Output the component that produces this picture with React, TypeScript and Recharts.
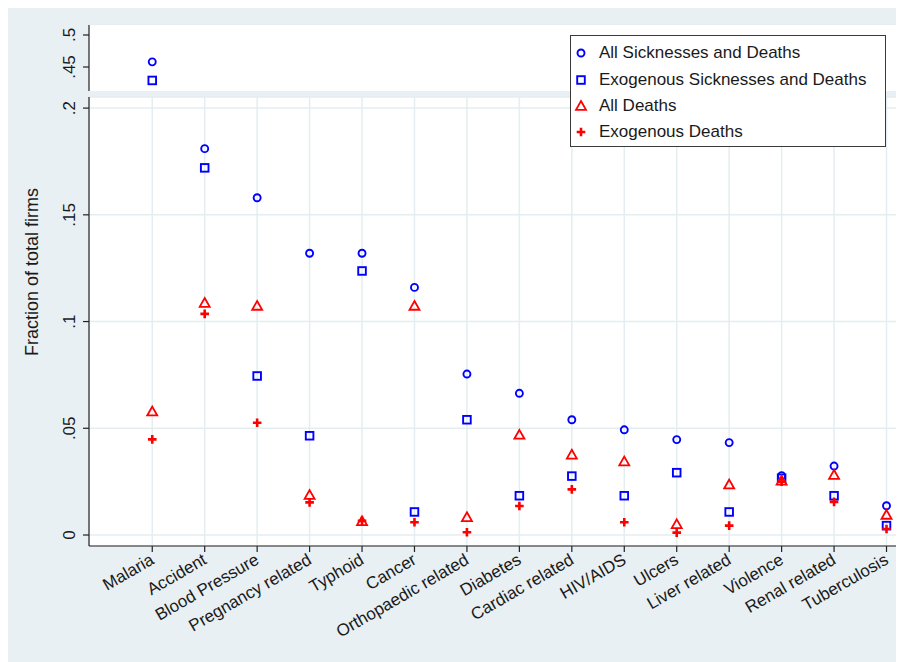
import React from "react";
import { ScatterChart, Scatter, XAxis, YAxis, CartesianGrid } from "recharts";

// ---- data ----
const categories = [
  "Malaria",
  "Accident",
  "Blood Pressure",
  "Pregnancy related",
  "Typhoid",
  "Cancer",
  "Orthopaedic related",
  "Diabetes",
  "Cardiac related",
  "HIV/AIDS",
  "Ulcers",
  "Liver related",
  "Violence",
  "Renal related",
  "Tuberculosis",
];
const allSicknesses = [0.458, 0.181, 0.158, 0.132, 0.132, 0.116, 0.0754, 0.0664, 0.054, 0.0493, 0.0447, 0.0433, 0.0278, 0.0323, 0.0137];
const exoSicknesses = [0.429, 0.172, 0.0745, 0.0465, 0.1237, 0.0108, 0.054, 0.0184, 0.0276, 0.0184, 0.0292, 0.0108, 0.0266, 0.0184, 0.0044];
const allDeaths = [0.0578, 0.1087, 0.1073, 0.0187, 0.0064, 0.1073, 0.0083, 0.0469, 0.0376, 0.0344, 0.005, 0.0236, 0.0254, 0.0281, 0.0094];
const exoDeaths = [0.0448, 0.1036, 0.0526, 0.0153, 0.0066, 0.006, 0.0013, 0.0136, 0.0214, 0.006, 0.0011, 0.0044, 0.025, 0.0155, 0.0028];

const legendLabels = [
  "All Sicknesses and Deaths",
  "Exogenous Sicknesses and Deaths",
  "All Deaths",
  "Exogenous Deaths",
];
const topYTicks = [0.45, 0.5];
const topYLabels = [".45", ".5"];
const bottomYTicks = [0, 0.05, 0.1, 0.15, 0.2];
const bottomYLabels = ["0", ".05", ".1", ".15", ".2"];
const yTitle = "Fraction of total firms";

const topDomain: [number, number] = [0.4125, 0.5156];
const bottomDomain: [number, number] = [-0.00515, 0.2052];
const xDomain: [number, number] = [-1.206, 14.2];
const xTicks = categories.map((_, i) => i);

// ---- styles ----
const BLUE = "#0000ff";
const RED = "#ff0000";
const AXIS = "#222222";
const GRID = "#e4edf0";
const BG = "#e8f0f3";
const FONT = "'Liberation Sans', Arial, Helvetica, sans-serif";

function toPoints(values: number[], domain: [number, number]) {
  return values
    .map((v, i) => ({ x: i, y: v }))
    .filter((p) => p.y >= domain[0] && p.y <= domain[1]);
}

const CircleShape = (p: any) => (
  <circle cx={p.cx} cy={p.cy} r={3.5} fill="none" stroke={BLUE} strokeWidth={1.9} />
);
const SquareShape = (p: any) => (
  <rect x={p.cx - 3.8} y={p.cy - 3.8} width={7.6} height={7.6} fill="none" stroke={BLUE} strokeWidth={1.9} />
);
const TriangleShape = (p: any) => (
  <path
    d={`M${p.cx},${p.cy - 5} L${p.cx + 5},${p.cy + 3.8} L${p.cx - 5},${p.cy + 3.8} Z`}
    fill="none"
    stroke={RED}
    strokeWidth={1.8}
  />
);
const PlusShape = (p: any) => (
  <path
    d={`M${p.cx - 4.3},${p.cy} H${p.cx + 4.3} M${p.cx},${p.cy - 4.3} V${p.cy + 4.3}`}
    stroke={RED}
    strokeWidth={2.6}
    fill="none"
  />
);
const shapes = [CircleShape, SquareShape, TriangleShape, PlusShape];
const seriesValues = [allSicknesses, exoSicknesses, allDeaths, exoDeaths];

const makeYTick = (ticks: number[], labels: string[]) => (props: any) => {
  const { x, y, payload } = props;
  const idx = ticks.indexOf(payload.value);
  const label = idx >= 0 ? labels[idx] : String(payload.value);
  return (
    <text
      x={x}
      y={y}
      transform={`rotate(-90 ${x} ${y})`}
      textAnchor="middle"
      fontSize={17}
      fontFamily={FONT}
      fill="#1a1a1a"
    >
      {label}
    </text>
  );
};

const XTick = (props: any) => {
  const { x, y, payload } = props;
  const label = categories[payload.value] ?? "";
  const ax = x + 3;
  const ay = y + 11;
  return (
    <text
      x={ax}
      y={ay}
      transform={`rotate(-30 ${ax} ${ay})`}
      textAnchor="end"
      fontSize={17}
      fontFamily={FONT}
      fill="#1a1a1a"
    >
      {label}
    </text>
  );
};

const W = 889;
const H = 654;
const AXIS_W = 81;

export default function App() {
  return (
    <div style={{ position: "relative", width: W, height: H, background: BG, fontFamily: FONT }}>
      {/* top panel */}
      <div style={{ position: "absolute", left: 0, top: 0 }}>
        <ScatterChart width={W} height={83} margin={{ top: 17, right: 0, left: 0, bottom: 0 }}>
          <rect x={AXIS_W} y={17} width={W - AXIS_W} height={66} fill="#ffffff" />
          <CartesianGrid stroke={GRID} strokeWidth={1.5} fill="#ffffff" />
          <XAxis
            type="number"
            dataKey="x"
            domain={xDomain}
            ticks={xTicks}
            allowDataOverflow
            height={0}
            axisLine={false}
            tickLine={false}
            tick={false}
          />
          <YAxis
            type="number"
            dataKey="y"
            domain={topDomain}
            ticks={topYTicks}
            allowDataOverflow
            width={AXIS_W}
            axisLine={{ stroke: AXIS, strokeWidth: 1.2 }}
            tickLine={{ stroke: AXIS, strokeWidth: 1.2 }}
            tickSize={6}
            tickMargin={8}
            tick={makeYTick(topYTicks, topYLabels)}
          />
          {seriesValues.map((vals, i) => (
            <Scatter
              key={i}
              name={legendLabels[i]}
              data={toPoints(vals, topDomain)}
              shape={shapes[i]}
              isAnimationActive={false}
            />
          ))}
        </ScatterChart>
      </div>
      {/* bottom panel */}
      <div style={{ position: "absolute", left: 0, top: 83 }}>
        <ScatterChart width={W} height={571} margin={{ top: 6, right: 0, left: 0, bottom: 0 }}>
          <CartesianGrid stroke={GRID} strokeWidth={1.5} fill="#ffffff" />
          <XAxis
            type="number"
            dataKey="x"
            domain={xDomain}
            ticks={xTicks}
            allowDataOverflow
            height={116}
            interval={0}
            axisLine={{ stroke: AXIS, strokeWidth: 1.2 }}
            tickLine={{ stroke: AXIS, strokeWidth: 1.2 }}
            tickSize={6}
            tickMargin={0}
            tick={<XTick />}
          />
          <YAxis
            type="number"
            dataKey="y"
            domain={bottomDomain}
            ticks={bottomYTicks}
            allowDataOverflow
            width={AXIS_W}
            axisLine={{ stroke: AXIS, strokeWidth: 1.2 }}
            tickLine={{ stroke: AXIS, strokeWidth: 1.2 }}
            tickSize={6}
            tickMargin={8}
            tick={makeYTick(bottomYTicks, bottomYLabels)}
          />
          {seriesValues.map((vals, i) => (
            <Scatter
              key={i}
              name={legendLabels[i]}
              data={toPoints(vals, bottomDomain)}
              shape={shapes[i]}
              isAnimationActive={false}
            />
          ))}
        </ScatterChart>
      </div>
      {/* y axis title */}
      <div
        style={{
          position: "absolute",
          left: 24,
          top: 264,
          transform: "translate(-50%, -50%) rotate(-90deg)",
          whiteSpace: "nowrap",
          fontSize: 18,
          color: "#1a1a1a",
        }}
      >
        {yTitle}
      </div>
      {/* legend */}
      <div
        style={{
          position: "absolute",
          left: 562,
          top: 27,
          width: 316,
          height: 112,
          boxSizing: "border-box",
          border: "1px solid #3a3a3a",
          background: "#ffffff",
        }}
      >
        {legendLabels.map((label, i) => {
          const Shape = shapes[i];
          const centers = [18, 45, 71, 97];
          return (
            <div
              key={label}
              style={{
                position: "absolute",
                left: 0,
                top: centers[i] - 1 - 11,
                height: 22,
                display: "flex",
                alignItems: "center",
                whiteSpace: "nowrap",
              }}
            >
              <svg width={20} height={22} style={{ marginLeft: 0 }}>
                <Shape cx={10} cy={11} />
              </svg>
              <span style={{ marginLeft: 8, fontSize: 17, color: "#1a1a1a", lineHeight: "22px" }}>{label}</span>
            </div>
          );
        })}
      </div>
    </div>
  );
}
